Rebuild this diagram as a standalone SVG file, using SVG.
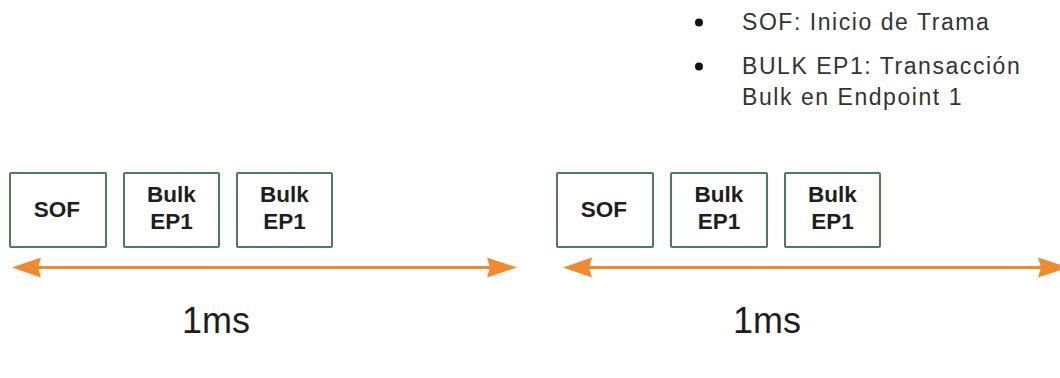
<svg xmlns="http://www.w3.org/2000/svg" width="1060" height="378" viewBox="0 0 1060 378">
  <style>
    .box { fill: #ffffff; stroke: #4f7a5c; stroke-width: 2; }
    .lbl { font-family: "Liberation Sans", Arial, sans-serif; font-weight: bold; font-size: 22.5px; fill: #1e1e1e; text-anchor: middle; }
    .leg { font-family: "Liberation Sans", Arial, sans-serif; font-size: 23px; letter-spacing: 1.55px; fill: #333333; }
    .dot { fill: #111111; }
    .dur { font-family: "Liberation Sans", Arial, sans-serif; font-size: 36px; fill: #1e1e1e; text-anchor: middle; }
    .span { stroke: #f08a2c; stroke-width: 3; fill: none; }
    .head { fill: #f08a2c; }
  </style>

  <rect width="1060" height="378" fill="#ffffff"/>

  <!-- legend -->
  <g id="legend">
    <circle class="dot" cx="699" cy="22.5" r="4"/>
    <text class="leg" x="742" y="29.5">SOF: Inicio de Trama</text>
    <circle class="dot" cx="699" cy="66.5" r="4"/>
    <text class="leg" x="742" y="73.5">BULK EP1: Transacción</text>
    <text class="leg" x="742" y="104.5">Bulk en Endpoint 1</text>
  </g>

  <!-- frame 1 -->
  <g id="sof1">
    <rect class="box" x="10" y="173" width="96" height="74" rx="1"/>
    <text class="lbl" x="57" y="216.5">SOF</text>
  </g>
  <g id="bulk1a">
    <rect class="box" x="124" y="173" width="95" height="74" rx="1"/>
    <text class="lbl" x="171.5" y="202">Bulk</text>
    <text class="lbl" x="171.5" y="229">EP1</text>
  </g>
  <g id="bulk1b">
    <rect class="box" x="237" y="173" width="95" height="74" rx="1"/>
    <text class="lbl" x="284.5" y="202">Bulk</text>
    <text class="lbl" x="284.5" y="229">EP1</text>
  </g>

  <!-- frame 2 -->
  <g id="sof2">
    <rect class="box" x="557" y="173" width="96" height="74" rx="1"/>
    <text class="lbl" x="604" y="216.5">SOF</text>
  </g>
  <g id="bulk2a">
    <rect class="box" x="671" y="173" width="96" height="74" rx="1"/>
    <text class="lbl" x="719" y="202">Bulk</text>
    <text class="lbl" x="719" y="229">EP1</text>
  </g>
  <g id="bulk2b">
    <rect class="box" x="785" y="173" width="95" height="74" rx="1"/>
    <text class="lbl" x="832.5" y="202">Bulk</text>
    <text class="lbl" x="832.5" y="229">EP1</text>
  </g>

  <!-- duration spans -->
  <g id="connectors">
    <line class="span" x1="36" y1="267.5" x2="492" y2="267.5"/>
    <path class="head" d="M12,267.5 L41,257.5 L38,267.5 L41,277.5 Z"/>
    <path class="head" d="M517,267.5 L487,257.5 L490,267.5 L487,277.5 Z"/>

    <line class="span" x1="587" y1="267.5" x2="1043" y2="267.5"/>
    <path class="head" d="M563,267.5 L592,257.5 L589,267.5 L592,277.5 Z"/>
    <path class="head" d="M1068,267.5 L1038,257.5 L1041,267.5 L1038,277.5 Z"/>
  </g>

  <text class="dur" x="216" y="333">1ms</text>
  <text class="dur" x="767" y="333">1ms</text>
</svg>
